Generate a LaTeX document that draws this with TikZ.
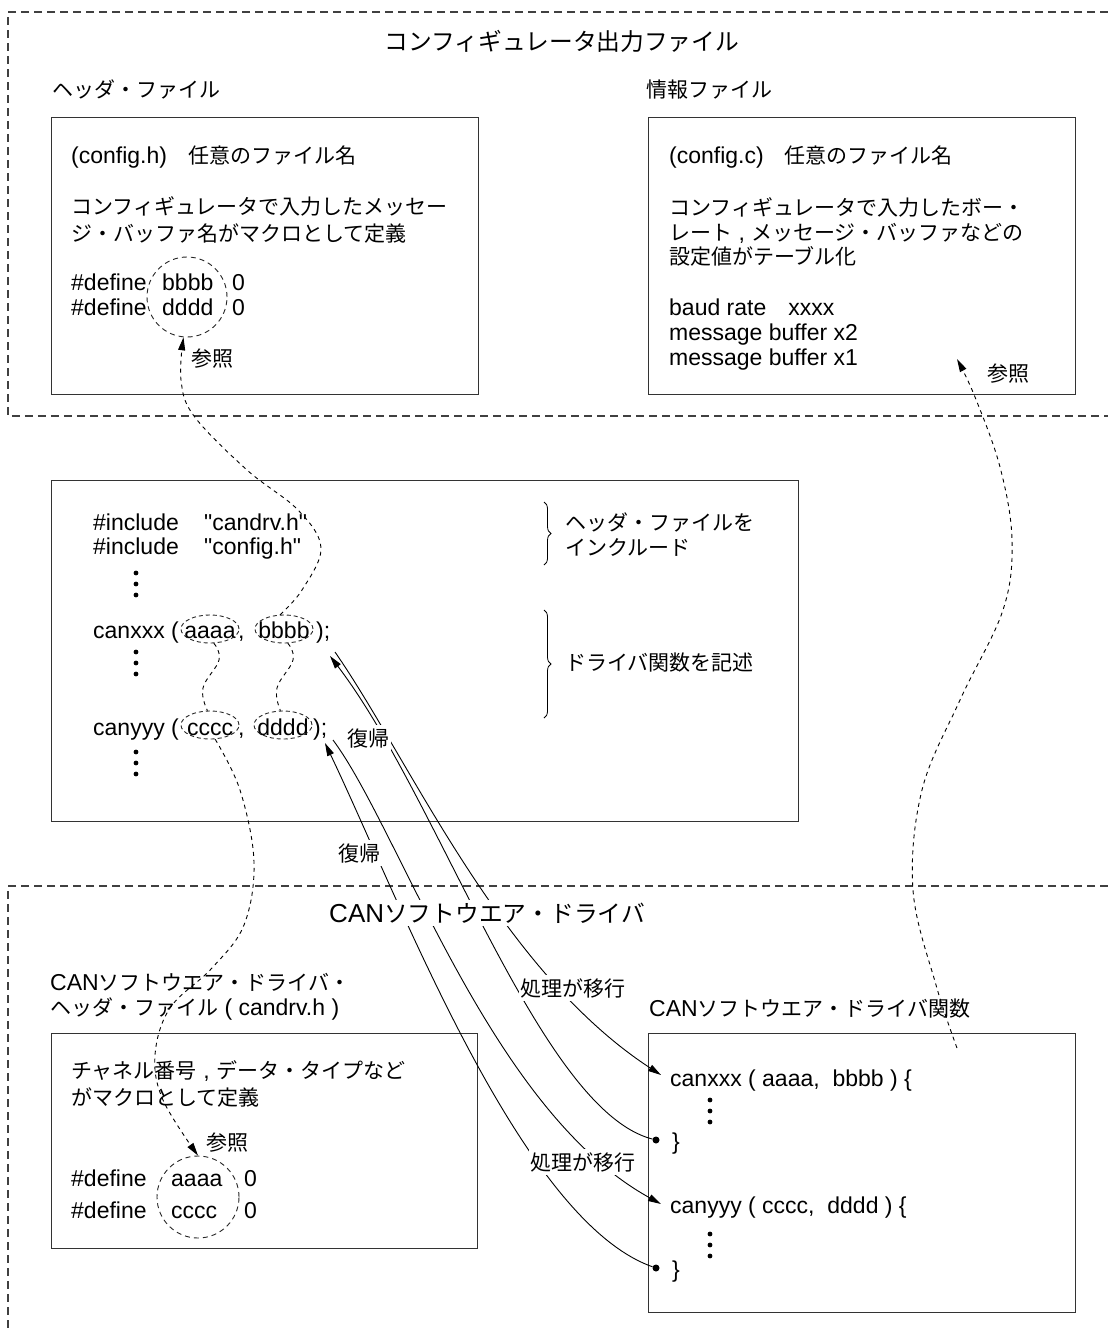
\documentclass[tikz,border=0pt]{standalone}
\usepackage{fontspec}
\setmainfont{Liberation Sans}[Ligatures=TeXOff]
\newfontfamily\jpfont[Scale=0.913]{Noto Sans CJK JP}
\newcommand\J[1]{{\jpfont #1}}
\usetikzlibrary{arrows.meta,decorations.pathreplacing,shapes.geometric}
\begin{document}
\begin{tikzpicture}[x=1pt,y=-1pt,
  txt/.style={anchor=base west,inner sep=0pt,font=\fontsize{23}{27}\selectfont},
  txte/.style={anchor=base east,inner sep=0pt,font=\fontsize{23}{27}\selectfont},
  txtc/.style={anchor=base,inner sep=0pt,font=\fontsize{23}{27}\selectfont},
  ttl/.style={anchor=base,inner sep=3pt,fill=white,font=\fontsize{26}{30}\selectfont},
  lbl/.style={anchor=base,inner xsep=2pt,inner ysep=3pt,fill=white,font=\fontsize{23}{27}\selectfont},
  outerbox/.style={draw=black!75,line width=1.1pt,dash pattern=on 8pt off 5pt},
  solidbox/.style={draw=black!80,line width=1.2pt,anchor=north west,inner sep=0pt},
  refcirc/.style={draw=black!85,circle,line width=0.9pt,dash pattern=on 5pt off 4pt,inner sep=0pt},
  argell/.style={draw=black!85,ellipse,line width=0.9pt,dash pattern=on 4pt off 3pt,inner sep=0pt,minimum width=58pt,minimum height=28pt},
  refline/.style={draw=black,line width=0.9pt,dash pattern=on 4pt off 4pt},
  reftip/.style={-{Triangle[length=13pt,width=7pt]}},
  flow/.style={draw=black,line width=0.9pt,-{Triangle[length=13pt,width=7pt]}},
  dotn/.style={circle,fill=black,inner sep=0pt,minimum size=7pt},
  bracedeco/.style={draw=black,line width=0.8pt,decorate,decoration={brace,amplitude=7pt}},
  vdotspic/.pic={\fill (0,0) circle[radius=2.4pt] (0,11) circle[radius=2.4pt] (0,22) circle[radius=2.4pt];}
]
\useasboundingbox (0,0) rectangle (1108,1331);
\fill[white] (0,0) rectangle (1108,1331);

% ---------- outer dashed regions ----------
\draw[outerbox] (1108,12) -- (8,12) -- (8,416) -- (1108,416);
\draw[outerbox] (1108,886) -- (8,886) -- (8,1331);

% ---------- top region ----------
\node[ttl,fill=none] (title1) at (562,50) {\J{コンフィギュレータ出力ファイル}};
\node[txt] (hdr1) at (52,97) {\J{ヘッダ・ファイル}};
\node[txt] (hdr2) at (646,97) {\J{情報ファイル}};

\node[solidbox,minimum width=427pt,minimum height=277pt] (hbox) at (51,117) {};
\node[txt] (h1) at (71,163) {(config.h)\J{　任意のファイル名}};
\node[txt] (h2) at (71,214) {\J{コンフィギュレータで入力したメッセー}};
\node[txt] (h3) at (71,241) {\J{ジ・バッファ名がマクロとして定義}};
\node[txt] (h4a) at (71,290) {\#define};
\node[txt] (h4b) at (162,290) {bbbb};
\node[txt] (h4c) at (232,290) {0};
\node[txt] (h5a) at (71,315) {\#define};
\node[txt] (h5b) at (162,315) {dddd};
\node[txt] (h5c) at (232,315) {0};
\node[refcirc,minimum size=80pt] (refH) at (187,297) {};
\node[txtc] (sanshoH) at (212,366) {\J{参照}};

\node[solidbox,minimum width=427pt,minimum height=277pt] (cbox) at (648,117) {};
\node[txt] (c1) at (669,163) {(config.c)\J{　任意のファイル名}};
\node[txt] (c2) at (669,215) {\J{コンフィギュレータで入力したボー・}};
\node[txt] (c3) at (669,240) {\J{レート} , \J{メッセージ・バッファなどの}};
\node[txt] (c4) at (669,264) {\J{設定値がテーブル化}};
\node[txt] (c5) at (669,315) {baud rate\hspace{22pt}xxxx};
\node[txt] (c6) at (669,340) {message buffer x2};
\node[txt] (c7) at (669,365) {message buffer x1};
\node[txtc] (sanshoC) at (1008,381) {\J{参照}};
\coordinate (refItip) at (957,359);

% ---------- middle box ----------
\node[solidbox,minimum width=747pt,minimum height=341pt] (mbox) at (51,480) {};
\node[txt] (i1a) at (93,530) {\#include};
\node[txt] (i1b) at (204,530) {"candrv.h"};
\node[txt] (i2a) at (93,554) {\#include};
\node[txt] (i2b) at (204,554) {"config.h"};
\pic at (136,573) {vdotspic};
\node[txt] (fx1) at (93,638) {canxxx (};
\node[txtc] (fx2) at (210,638) {aaaa};
\node[txt] (fx3) at (238,638) {,};
\node[txtc] (fx4) at (284,638) {bbbb};
\node[txt] (fx5) at (316,638) {);};
\pic at (136,652) {vdotspic};
\node[txt] (fy1) at (93,735) {canyyy (};
\node[txtc] (fy2) at (210,735) {cccc};
\node[txt] (fy3) at (238,735) {,};
\node[txtc] (fy4) at (283,735) {dddd};
\node[txt] (fy5) at (313,735) {);};
\pic at (136,752) {vdotspic};
\node[argell] (ea) at (210,629) {};
\node[argell] (eb) at (284,629) {};
\node[argell] (ec) at (210,725) {};
\node[argell] (ed) at (283,725) {};

\draw[bracedeco] (544,502) -- (544,565);
\draw[bracedeco] (544,610) -- (544,718);
\node[txt] (b1) at (565,530) {\J{ヘッダ・ファイルを}};
\node[txt] (b2) at (565,555) {\J{インクルード}};
\node[txt] (b3) at (565,670) {\J{ドライバ関数を記述}};

\coordinate (xout) at (335,652);
\coordinate (xin) at (330,656);
\coordinate (yout) at (333,740);
\coordinate (yin) at (325,743);

% ---------- bottom region ----------
\node[txt] (lh1) at (50,990) {CAN\J{ソフトウエア・ドライバ・}};
\node[txt] (lh2) at (50,1015) {\J{ヘッダ・ファイル} ( candrv.h )};
\node[solidbox,minimum width=426pt,minimum height=215pt] (dbox) at (51,1033) {};
\node[txt] (d1) at (71,1078) {\J{チャネル番号} , \J{データ・タイプなど}};
\node[txt] (d2) at (71,1105) {\J{がマクロとして定義}};
\node[txtc] (sanshoD) at (227,1150) {\J{参照}};
\node[txt] (d3a) at (71,1186) {\#define};
\node[txt] (d3b) at (171,1186) {aaaa};
\node[txt] (d3c) at (244,1186) {0};
\node[txt] (d4a) at (71,1218) {\#define};
\node[txt] (d4b) at (171,1218) {cccc};
\node[txt] (d4c) at (244,1218) {0};
\node[refcirc,minimum size=82pt] (refC) at (198,1197) {};

\node[txt] (rh) at (649,1016) {CAN\J{ソフトウエア・ドライバ関数}};
\node[solidbox,minimum width=427pt,minimum height=279pt] (fbox) at (648,1033) {};
\node[txt] (f1) at (670,1086) {canxxx ( aaaa,\ \ bbbb ) \{};
\pic at (710,1100) {vdotspic};
\node[txt] (f2) at (672,1149) {\}};
\node[txt] (f3) at (670,1213) {canyyy ( cccc,\ \ dddd ) \{};
\pic at (710,1234) {vdotspic};
\node[txt] (f4) at (672,1277) {\}};
\node[dotn] (r1) at (656,1140) {};
\node[dotn] (r2) at (656,1268) {};
\coordinate (fxin) at (661,1075);
\coordinate (fyin) at (661,1204);
\coordinate (infoStart) at (957,1048);

% ---------- dashed reference connectors ----------
\draw[refline,reftip] plot[smooth,tension=0.6] coordinates {(eb.105) (302,590) (321,548) (298,510) (247,470) (194,416) (181,380) (refH.265)};
\draw[refline] plot[smooth,tension=0.7] coordinates {(ea.-75) (219,660) (203,688) (ec.100)};
\draw[refline] plot[smooth,tension=0.7] coordinates {(eb.-75) (293,660) (277,688) (ed.100)};
\draw[refline,reftip] plot[smooth,tension=0.6] coordinates {(ec.-70) (240,790) (254,862) (244,925) (212,968) (170,1008) (155,1055) (163,1100) (refC.north)};
\draw[refline,reftip] plot[smooth,tension=0.6] coordinates {(infoStart) (936,985) (913,890) (922,790) (960,700) (1003,610) (1012,540) (1000,467) (975,397) (refItip)};

% ---------- solid flow curves ----------
\draw[flow] (xout) .. controls (410,760) and (500,970) .. (fxin);
\draw[flow] (r1) .. controls (540,1110) and (440,800) .. (xin);
\draw[flow] (yout) .. controls (400,830) and (490,1110) .. (fyin);
\draw[flow] (r2) .. controls (520,1220) and (400,900) .. (yin);

% ---------- labels on top of curves ----------
\node[ttl] (title2) at (487,922) {CAN\J{ソフトウエア・ドライバ}};
\node[lbl] (proc1) at (573,996) {\J{処理が移行}};
\node[lbl] (proc2) at (583,1170) {\J{処理が移行}};
\node[lbl] (ret1) at (368,746) {\J{復帰}};
\node[lbl] (ret2) at (359,861) {\J{復帰}};
\end{tikzpicture}
\end{document}
